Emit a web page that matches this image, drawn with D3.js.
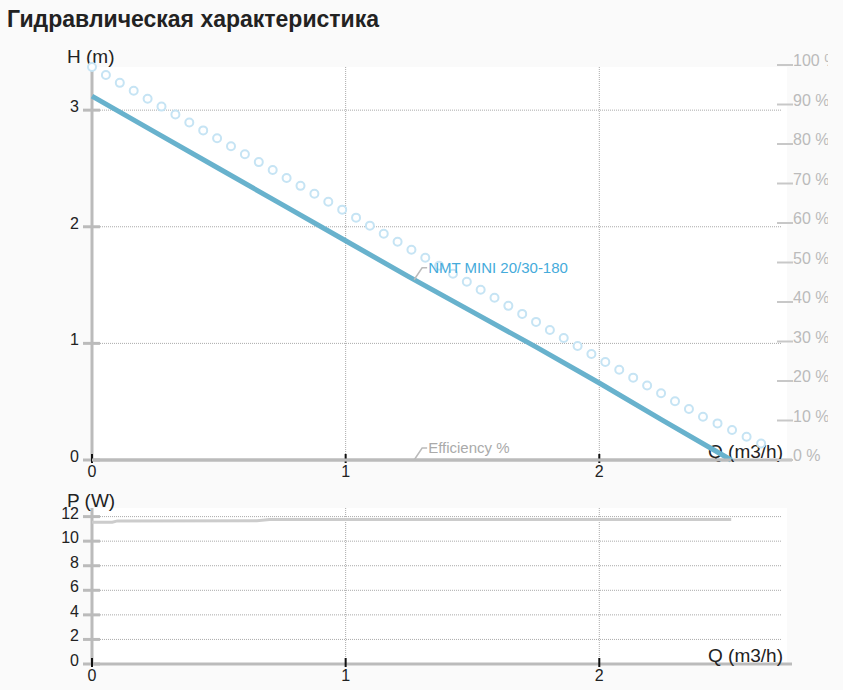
<!DOCTYPE html>
<html>
<head>
<meta charset="utf-8">
<script src="https://cdn.jsdelivr.net/npm/d3@7"></script>
<style>
  html, body { margin: 0; padding: 0; background: #fafafa; }
  svg { display: block; overflow: hidden; }
  text { font-family: "Liberation Sans", Arial, sans-serif; }
</style>
</head>
<body>
<div id="chart"></div>
<script>
// flow rate values (m3/h) and the curves
var headQ = [0, 0.25, 0.5, 0.75, 1, 1.25, 1.5, 1.75, 2, 2.25, 2.52]
var headH = [3.12, 2.81, 2.50, 2.19, 1.88, 1.57, 1.27, 0.97, 0.66, 0.34, 0.0]

// the dotted (ring) curve above the pump curve
var maxQ = [0, 0.5, 1, 1.5, 2, 2.4, 2.68]
var maxH = [3.37, 2.75, 2.13, 1.50, 0.87, 0.38, 0.1]

var effQ = [0, 2.52]
var effV = [0, 0]

var powQ = [0, 0.08, 0.1, 0.65, 0.7, 1, 1.5, 2, 2.52]
var powP = [11.55, 11.55, 11.65, 11.67, 11.76, 11.76, 11.76, 11.76, 11.76]

var qTicks = [0, 1, 2]
var hTicks = [0, 1, 2, 3]
var effTicks = [0, 10, 20, 30, 40, 50, 60, 70, 80, 90, 100]
var pTicks = [0, 2, 4, 6, 8, 10, 12]

var title = "Гидравлическая характеристика"
var pumpName = "NMT MINI 20/30-180"
var effName = "Efficiency %"

var W = 828, H = 690
var left = 92, right = 787
var svg = d3.select("#chart").append("svg").attr("width", W).attr("height", H)

var x = d3.scaleLinear().domain([0, 2.74]).range([left, right])
var yH = d3.scaleLinear().domain([0, 3.37]).range([460, 67])
var yE = d3.scaleLinear().domain([0, 100]).range([460, 65])
var yP = d3.scaleLinear().domain([0, 12.7]).range([664, 508])

var grey = "#bbbbbb"

svg.append("text").attr("x", 7).attr("y", 27)
    .attr("font-size", 23).attr("font-weight", "bold").attr("fill", "#222")
    .text(title)

function panel(y, ticks, yTitle, yTitleY) {
    var top = y.range()[1], bottom = y.range()[0]
    var g = svg.append("g")
    g.append("rect").attr("x", left).attr("y", top)
        .attr("width", right - left).attr("height", bottom - top).attr("fill", "#fff")

    // grid
    g.selectAll(".hg").data(ticks.filter(function(d) { return d > 0 })).enter().append("line")
        .attr("x1", left).attr("x2", 782)
        .attr("y1", function(d) { return y(d) }).attr("y2", function(d) { return y(d) })
        .attr("stroke", "#aaa").attr("stroke-width", 1).attr("stroke-dasharray", "1,1")
    g.selectAll(".vg").data(qTicks.filter(function(d) { return d > 0 })).enter().append("line")
        .attr("x1", function(d) { return x(d) }).attr("x2", function(d) { return x(d) })
        .attr("y1", top).attr("y2", bottom)
        .attr("stroke", "#aaa").attr("stroke-width", 1).attr("stroke-dasharray", "1,1")

    // y axis
    g.append("line").attr("x1", left).attr("x2", left).attr("y1", top).attr("y2", bottom)
        .attr("stroke", grey).attr("stroke-width", 3)
    g.selectAll(".yt").data(ticks).enter().append("line")
        .attr("x1", 83).attr("x2", 100)
        .attr("y1", function(d) { return y(d) }).attr("y2", function(d) { return y(d) })
        .attr("stroke", grey).attr("stroke-width", 3)
    g.selectAll(".yl").data(ticks).enter().append("text")
        .attr("x", 79).attr("y", function(d) { return y(d) + 2 })
        .attr("text-anchor", "end").attr("font-size", 16).attr("fill", "#222")
        .text(function(d) { return d })
    g.append("text").attr("x", 67).attr("y", yTitleY)
        .attr("font-size", 19).attr("fill", "#222").text(yTitle)

    // x axis
    g.append("line").attr("x1", left).attr("x2", 792).attr("y1", bottom).attr("y2", bottom)
        .attr("stroke", grey).attr("stroke-width", 3)
    g.selectAll(".xt").data(qTicks).enter().append("line")
        .attr("x1", function(d) { return x(d) }).attr("x2", function(d) { return x(d) })
        .attr("y1", bottom - 6).attr("y2", bottom + 3)
        .attr("stroke", "#111").attr("stroke-width", 2)
    g.selectAll(".xl").data(qTicks).enter().append("text")
        .attr("x", function(d) { return x(d) }).attr("y", bottom + 17)
        .attr("text-anchor", "middle").attr("font-size", 16).attr("fill", "#222")
        .text(function(d) { return d })
    g.append("text").attr("x", 783).attr("y", bottom - 2)
        .attr("text-anchor", "end").attr("font-size", 19).attr("fill", "#222").text("Q (m3/h)")
    return g
}

panel(yH, hTicks, "H (m)", 63)
panel(yP, pTicks, "P (W)", 507)

// right efficiency axis
svg.selectAll(".et").data(effTicks).enter().append("line")
    .attr("x1", 777).attr("x2", 793)
    .attr("y1", function(d) { return yE(d) }).attr("y2", function(d) { return yE(d) })
    .attr("stroke", "#c8c8c8").attr("stroke-width", 2)
svg.selectAll(".el").data(effTicks).enter().append("text")
    .attr("x", 793).attr("y", function(d) { return yE(d) + 1 })
    .attr("font-size", 16).attr("fill", "#bbb")
    .text(function(d) { return d + " %" })

// series
var headLine = d3.line().x(function(d) { return x(d[0]) }).y(function(d) { return yH(d[1]) })
var ring = d3.zip(maxQ, maxH)
svg.append("path").datum(ring).attr("d", headLine)
    .attr("fill", "none").attr("stroke", "#c6e4f4").attr("stroke-width", 10)
    .attr("stroke-linecap", "round").attr("stroke-dasharray", "0 16")
svg.append("path").datum(ring).attr("d", headLine)
    .attr("fill", "none").attr("stroke", "#fff").attr("stroke-width", 6)
    .attr("stroke-linecap", "round").attr("stroke-dasharray", "0 16")

svg.append("path").datum(d3.zip(headQ, headH)).attr("d", headLine)
    .attr("fill", "none").attr("stroke", "#68b2cd").attr("stroke-width", 5)

var effLine = d3.line().x(function(d) { return x(d[0]) }).y(function(d) { return yE(d[1]) })
svg.append("path").datum(d3.zip(effQ, effV)).attr("d", effLine)
    .attr("fill", "none").attr("stroke", grey).attr("stroke-width", 3)

var powLine = d3.line().x(function(d) { return x(d[0]) }).y(function(d) { return yP(d[1]) })
svg.append("path").datum(d3.zip(powQ, powP)).attr("d", powLine)
    .attr("fill", "none").attr("stroke", "#cccccc").attr("stroke-width", 3)

// series labels with leaders
function label(px, py, txt, color) {
    svg.append("path")
        .attr("d", "M" + px + "," + py + "L" + (px + 8) + "," + (py - 12) + "L" + (px + 13) + "," + (py - 12))
        .attr("fill", "none").attr("stroke", "#bbb").attr("stroke-width", 1.5)
    svg.append("text").attr("x", px + 14).attr("y", py - 7)
        .attr("font-size", 15).attr("fill", color).text(txt)
}
var labelQ = 1.27
label(x(labelQ), yH(d3.interpolateNumber(1.57, 1.27)((labelQ - 1.25) / 0.25)), pumpName, "#45abdb")
label(x(labelQ), yE(0), effName, "#aaaaaa")
</script>
</body>
</html>
